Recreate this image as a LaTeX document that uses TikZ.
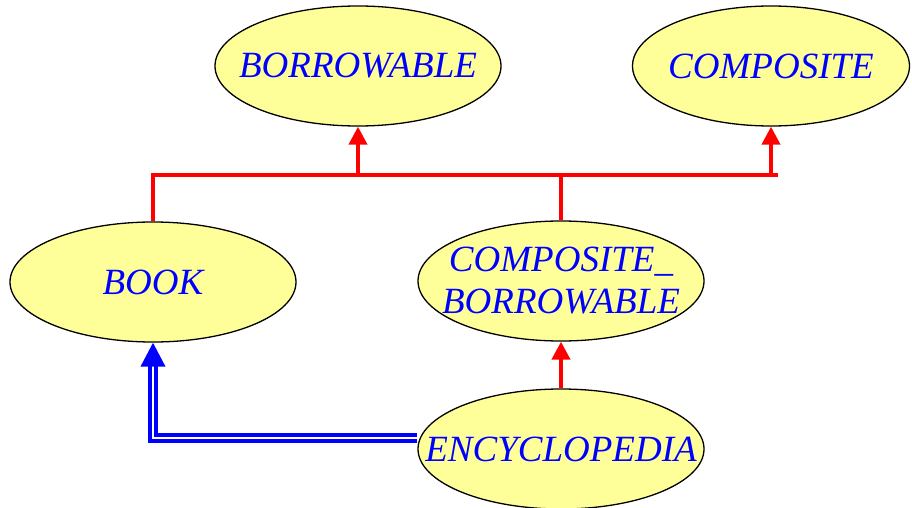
\documentclass[tikz,border=0pt]{standalone}
\usepackage{fontspec}
\setmainfont{Liberation Serif}
\usetikzlibrary{shapes.geometric,arrows.meta}

\definecolor{classfill}{RGB}{255,255,153}

\tikzset{
	class/.style={shape=ellipse, draw=black, line width=1.3pt, fill=classfill,
		inner sep=0pt, minimum width=286pt, minimum height=120pt},
	classtext/.style={text=blue, font=\fontsize{37}{42}\selectfont\itshape, align=center},
	heir/.style={draw=red, line width=4pt},
	heirarrow/.style={heir, -{Triangle[length=18pt,width=18pt]}},
	client/.style={draw=blue, line width=3.8pt, double=white, double distance=2pt,
		-{Triangle[length=24pt,width=24pt]}}
}

\begin{document}
\begin{tikzpicture}[x=1pt, y=-1pt]

	\useasboundingbox (0,0) rectangle (912,508);

	\node[class, label={[classtext]center:BORROWABLE}] (borrowable) at (358, 66) {};
	\node[class, minimum width=277pt, label={[classtext]center:COMPOSITE}] (composite) at (771, 66) {};

	\node[class, label={[classtext]center:BOOK}] (book) at (153, 282) {};
	\node[class, label={[classtext]center:COMPOSITE\_\\BORROWABLE}] (compborrow) at (561, 281) {};

	\node[class, label={[classtext]center:ENCYCLOPEDIA}] (encyclopedia) at (561, 449) {};

	\coordinate (barleft) at (153, 175);
	\coordinate (barright) at (778, 175);
	\coordinate (hubborrow) at (borrowable.south |- barleft);
	\coordinate (hubcomp) at (composite.south |- barleft);
	\coordinate (hubcb) at (compborrow.north |- barleft);

	\draw[heir] (book.north) -- (barleft) -- (barright);
	\draw[heir] (compborrow.north) -- (hubcb);
	\draw[heirarrow] (hubborrow) -- (borrowable.south);
	\draw[heirarrow] (hubcomp) -- (composite.south);
	\draw[heirarrow] (encyclopedia.north) -- (compborrow.south);

	\draw[client] ([yshift=11pt]encyclopedia.west) -| (book.south);

\end{tikzpicture}
\end{document}
